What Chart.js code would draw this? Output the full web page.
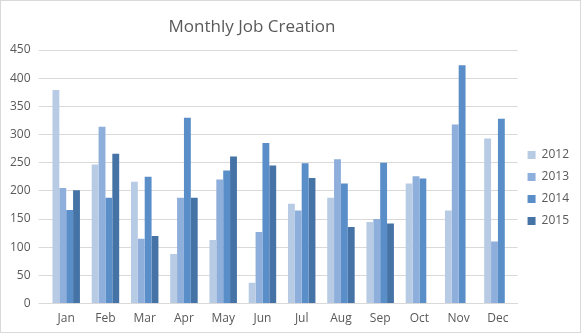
<!DOCTYPE html>
<html>
<head>
<meta charset="utf-8">
<script src="https://cdn.jsdelivr.net/npm/chart.js@4.4.0/dist/chart.umd.min.js"></script>
<style>
    html, body { margin: 0; padding: 0; background: #fff; }
    #wrap {
        width: 579px; height: 331px;
        border: 1px solid #d9d9d9;
        position: relative;
    }
</style>
</head>
<body>
<div id="wrap"><canvas id="chart"></canvas></div>
<script>
// Data
const months = ['Jan', 'Feb', 'Mar', 'Apr', 'May', 'Jun', 'Jul', 'Aug', 'Sep', 'Oct', 'Nov', 'Dec'];
const years = ['2012', '2013', '2014', '2015'];
const jobs2012 = [379, 247, 216, 88, 113, 37, 177, 188, 145, 213, 165, 293];
const jobs2013 = [205, 314, 115, 188, 220, 127, 165, 256, 150, 226, 318, 110];
const jobs2014 = [166, 188, 225, 330, 236, 285, 249, 213, 250, 222, 423, 328];
const jobs2015 = [201, 266, 120, 188, 261, 245, 223, 136, 142, null, null, null];
const yTicks = [0, 50, 100, 150, 200, 250, 300, 350, 400, 450];

const colors = ['#b7cbe5', '#8eaedb', '#5a8ec8', '#4673a6'];
const seriesValues = [jobs2012, jobs2013, jobs2014, jobs2015];

// Title drawn by hand so it sits where the original one does
const titlePlugin = {
    id: 'customTitle',
    afterDraw(chart) {
        const ctx = chart.ctx;
        ctx.save();
        ctx.font = '17px "Open Sans", sans-serif';
        ctx.fillStyle = '#595959';
        ctx.textAlign = 'center';
        ctx.textBaseline = 'middle';
        ctx.fillText('Monthly Job Creation', 251, 26);
        ctx.restore();
    }
};

const ctx = document.getElementById('chart').getContext('2d');
new Chart(ctx, {
    type: 'bar',
    data: {
        labels: months,
        datasets: years.map((y, i) => ({
            label: y,
            data: seriesValues[i],
            backgroundColor: colors[i],
            borderWidth: 0,
            categoryPercentage: 0.7,
            barPercentage: 1.0
        }))
    },
    plugins: [titlePlugin],
    options: {
        responsive: true,
        maintainAspectRatio: false,
        animation: false,
        layout: { padding: { top: 49, left: 1, right: 1, bottom: 6 } },
        plugins: {
            title: { display: false },
            tooltip: { enabled: false },
            legend: {
                position: 'right',
                labels: {
                    boxWidth: 8,
                    boxHeight: 8,
                    padding: 10,
                    color: '#595959',
                    font: { family: '"Open Sans", sans-serif', size: 12 }
                }
            }
        },
        scales: {
            x: {
                grid: { display: false },
                border: { color: '#d9d9d9' },
                ticks: {
                    color: '#595959',
                    padding: 0,
                    font: { family: '"Open Sans", sans-serif', size: 12 }
                }
            },
            y: {
                min: 0,
                max: 450,
                afterBuildTicks(axis) { axis.ticks = yTicks.map(v => ({ value: v })); },
                grid: { color: '#d9d9d9' },
                border: { display: false },
                ticks: {
                    color: '#595959',
                    padding: 8,
                    font: { family: '"Open Sans", sans-serif', size: 12 }
                }
            }
        }
    }
});
</script>
</body>
</html>
